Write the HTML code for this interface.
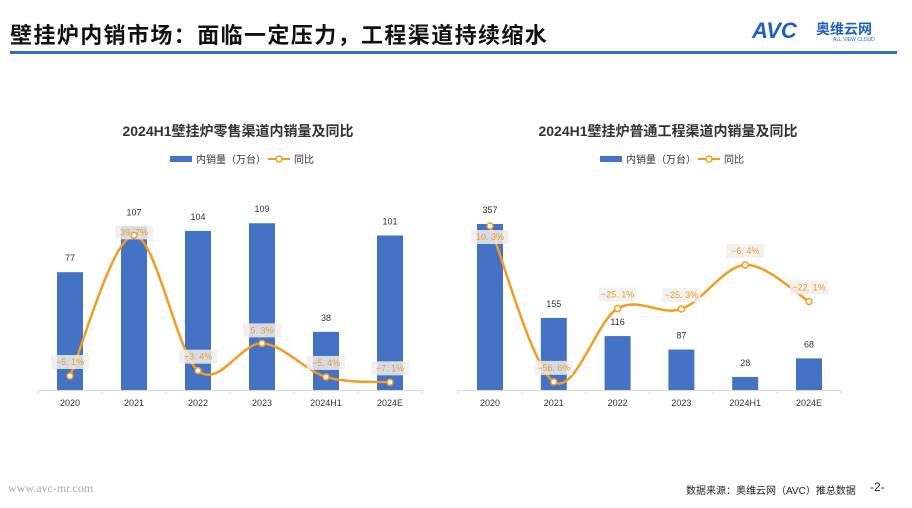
<!DOCTYPE html>
<html><head><meta charset="utf-8">
<style>
body{margin:0;width:912px;height:508px;background:#fff;overflow:hidden;font-family:"Liberation Sans","Noto Sans CJK SC",sans-serif;position:relative}
#title{position:absolute;left:10px;top:18px;font-size:22px;font-weight:bold;color:#111;letter-spacing:1.4px}
#rule{position:absolute;left:10px;top:51px;width:887px;height:3px;background:#2e6fc0}
#logo{position:absolute;left:752px;top:18px;color:#1f5fbf;font-weight:bold;font-size:22px;font-style:italic}
#logo-cn{position:absolute;left:816px;top:19px;color:#1f5fbf;font-weight:bold;font-size:14px}
#logo-en{position:absolute;left:833px;top:37px;color:#1f5fbf;font-size:5px}
#site{position:absolute;left:8px;top:481px;font-family:"Liberation Serif",serif;font-size:12px;color:#aaa}
#src{position:absolute;left:686px;top:482px;font-size:10px;color:#222}
#page{position:absolute;left:870px;top:480px;font-size:12px;color:#222}
svg{position:absolute;left:0;top:0}
</style></head><body>
<div id="title">壁挂炉内销市场：面临一定压力，工程渠道持续缩水</div>
<div id="rule"></div>
<div id="logo">AVC</div>
<div id="logo-cn">奥维云网</div>
<div id="logo-en">ALL VIEW CLOUD</div>
<div id="site">www.avc-mr.com</div>
<div id="src">数据来源：奥维云网（AVC）推总数据</div>
<div id="page">-2-</div>
<svg id="svg" width="912" height="508"></svg>
<script>
const categories=["2020","2021","2022","2023","2024H1","2024E"];
const retailVals=[77,107,104,109,38,101];
const retailYoy=[-5.1,39.7,-3.4,5.3,-5.4,-7.1];
const projVals=[357,155,116,87,28,68];
const projYoy=[10.3,-56.6,-25.1,-25.3,-6.4,-22.1];
const retailTitle="2024H1壁挂炉零售渠道内销量及同比";
const projTitle="2024H1壁挂炉普通工程渠道内销量及同比";

const NS="http://www.w3.org/2000/svg";
const svg=document.getElementById('svg');
function mk(tag,attrs,parent){const e=document.createElementNS(NS,tag);for(const k in attrs)e.setAttribute(k,attrs[k]);(parent||svg).appendChild(e);return e;}
function txt(s,x,y,attrs){const t=mk('text',Object.assign({x:x,y:y,'text-anchor':'middle','font-family':'"Liberation Sans","Noto Sans CJK SC",sans-serif'},attrs));t.textContent=s;return t;}

function chart(cfg){
  const g=mk('g',{});
  
  
  const base=390;
  const xOf=i=>cfg.x0+i*cfg.step;
  const yBar=v=>base-v*cfg.barScale;
  const yLine=p=>cfg.zero-p*cfg.pctScale;
  const t=txt(cfg.title,cfg.cx,136,{'font-size':14,'font-weight':'bold',fill:'#333'});g.appendChild(t);
  
  const lg=mk('g',{},g);
  
  const lx=cfg.cx-68;
  mk('rect',{x:lx,y:156,width:22,height:6,fill:'#4472c4'},lg);
  const l1=txt('内销量（万台）',lx+26,163,{'font-size':10,fill:'#333','text-anchor':'start'});lg.appendChild(l1);
  mk('line',{x1:lx+98,y1:159,x2:lx+120,y2:159,stroke:'#f39c1f','stroke-width':2},lg);
  mk('circle',{cx:lx+109,cy:159,r:3,fill:'#fff',stroke:'#f39c1f','stroke-width':1.5},lg);
  const l2=txt('同比',lx+124,163,{'font-size':10,fill:'#333','text-anchor':'start'});lg.appendChild(l2);
  const ax=mk('line',{x1:cfg.x0-cfg.step/2,y1:base+0.5,x2:xOf(5)+cfg.step/2,y2:base+0.5,stroke:'#d9d9d9'},g);
  
  for(let i=0;i<=6;i++){const tx=cfg.x0-cfg.step/2+i*cfg.step;mk('line',{x1:tx,y1:base,x2:tx,y2:base+4,stroke:'#d9d9d9'},g);}
  categories.forEach((c,i)=>{
    const x=xOf(i),v=cfg.vals[i];
    const b=mk('rect',{x:x-13,y:yBar(v),width:26,height:v*cfg.barScale,fill:'#4472c4'},g);
    
    const vl=txt(String(v),x,yBar(v)-11,{'font-size':9,fill:'#333'});g.appendChild(vl);
    
    const cl=txt(c,x,base+16,{'font-size':9,fill:'#333'});g.appendChild(cl);
    
  });
  const pts=cfg.yoy.map((p,i)=>[xOf(i),yLine(p)]);
  let d='M'+pts[0][0]+','+pts[0][1];
  for(let i=0;i<pts.length-1;i++){
    const p0=pts[Math.max(0,i-1)],p1=pts[i],p2=pts[i+1],p3=pts[Math.min(pts.length-1,i+2)];
    const c1=[p1[0]+(p2[0]-p0[0])/6,p1[1]+(p2[1]-p0[1])/6];
    const c2=[p2[0]-(p3[0]-p1[0])/6,p2[1]-(p3[1]-p1[1])/6];
    d+=' C'+c1+' '+c2+' '+p2;
  }
  const ln=mk('path',{d:d,fill:'none',stroke:'#f39c1f','stroke-width':2.5},g);
  
  pts.forEach((p,i)=>{
    const s=(cfg.yoy[i]<0?'−':'')+Math.abs(cfg.yoy[i]).toFixed(1).replace('.', '. ')+'%';
    const ly=p[1]+cfg.labelOff[i];
    mk('rect',{x:p[0]-19,y:ly-10,width:38,height:14,fill:'#eee','fill-opacity':0.85},g);
    const pl=txt(s,p[0],ly,{'font-size':9,fill:'#f39c1f'});g.appendChild(pl);
    
    const c=mk('circle',{cx:p[0],cy:p[1],r:3,fill:'#fff',stroke:'#f39c1f','stroke-width':1.5},g);
    
  });
}
chart({name:'retail-chart',title:retailTitle,cx:238,x0:70,step:64,vals:retailVals,yoy:retailYoy,barScale:1.53,zero:360,pctScale:3.14,labelOff:[-11,0,-11,-10,-11,-11]});
chart({name:'project-chart',title:projTitle,cx:668,x0:490,step:63.8,vals:projVals,yoy:projYoy,barScale:0.465,zero:250,pctScale:2.33,labelOff:[14,-11,-11,-11,-11,-11]});
</script>
</body></html>
